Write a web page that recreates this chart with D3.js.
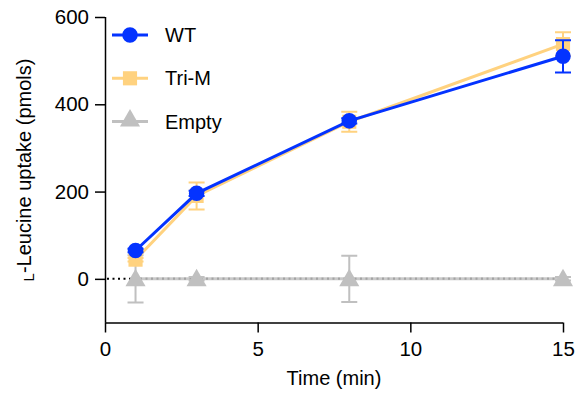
<!DOCTYPE html>
<html>
<head>
<meta charset="utf-8">
<script src="https://cdn.jsdelivr.net/npm/d3@7"></script>
<style>
  body { margin: 0; background: #fff; }
  text { font-family: "Liberation Sans", Arial, sans-serif; fill: #000; }
</style>
</head>
<body>
<svg id="chart" width="578" height="396"></svg>
<script>
// values
var times = [1, 3, 8, 15];
var wtMean = [65, 196, 362, 510];
var wtErr = [4, 6, 6, 37];
var trimMean = [44, 190, 360, 538];
var trimErr = [4, 31, 23, 27];
var emptyMean = [0, 0, 0, 0];
var emptyErr = [54, 4, 53, 4];
var xTicks = [0, 5, 10, 15];
var yTicks = [0, 200, 400, 600];

var series = [
    {name: "Empty", mean: emptyMean, err: emptyErr, color: "#c0c0c0", shape: "triangle"},
    {name: "Tri-M", mean: trimMean, err: trimErr, color: "#ffd27f", shape: "square"},
    {name: "WT", mean: wtMean, err: wtErr, color: "#0433ff", shape: "circle"}
];
var legendOrder = ["WT", "Tri-M", "Empty"];

var svg = d3.select("#chart");

var x = d3.scaleLinear().domain([0, 15]).range([105, 563]);
var y = d3.scaleLinear().domain([-100, 600]).range([322.5, 17]);

function symbolFor(shape) {
    if (shape == "circle") return d3.symbol().type(d3.symbolCircle).size(190);
    if (shape == "square") return d3.symbol().type(d3.symbolSquare).size(200);
    return d3.symbol().type(d3.symbolTriangle).size(175);
}

// axes
var xAxis = svg.append("g")
    .attr("transform", "translate(0," + y(-100) + ")")
    .call(d3.axisBottom(x).tickValues(xTicks).tickSize(10).tickPadding(9));
var yAxis = svg.append("g")
    .attr("transform", "translate(" + x(0) + ",0)")
    .call(d3.axisLeft(y).tickValues(yTicks).tickSize(10).tickPadding(6));

[xAxis, yAxis].forEach(function (a) {
    a.select(".domain").attr("stroke", "#000").attr("stroke-width", 1.5);
    a.selectAll(".tick line").attr("stroke", "#000").attr("stroke-width", 1.5);
    a.selectAll(".tick text").style("font-size", "20.5px")
        .style("font-family", "Liberation Sans, Arial, sans-serif").attr("fill", "#000");
});
// domain paths from d3 draw outer ticks; remove them
xAxis.select(".domain").attr("d", "M" + x(0) + ",0.5H" + x(15));
yAxis.select(".domain").attr("d", "M0.5," + y(-100) + "V" + y(600));

// dotted zero line
svg.append("line")
    .attr("x1", x(0) + 2).attr("x2", x(15))
    .attr("y1", y(0)).attr("y2", y(0))
    .attr("stroke", "#000").attr("stroke-width", 2)
    .attr("stroke-dasharray", "2,3.5");

var line = d3.line()
    .x(function (d, i) { return x(times[i]); })
    .y(function (d) { return y(d); });

series.forEach(function (s) {
    var g = svg.append("g");
    var errs = times.map(function (t, i) { return {t: t, m: s.mean[i], e: s.err[i]}; });

    g.selectAll(".bar").data(errs).enter().append("path")
        .attr("d", function (d) {
            var cx = x(d.t), hi = y(d.m + d.e), lo = y(d.m - d.e);
            return "M" + cx + "," + hi + "V" + lo +
                "M" + (cx - 8) + "," + hi + "H" + (cx + 8) +
                "M" + (cx - 8) + "," + lo + "H" + (cx + 8);
        })
        .attr("fill", "none").attr("stroke", s.color).attr("stroke-width", 2);

    g.append("path").datum(s.mean)
        .attr("d", line)
        .attr("fill", "none").attr("stroke", s.color)
        .attr("stroke-width", 3)
        .attr("opacity", s.shape == "triangle" ? 0.85 : 1);

    g.selectAll(".pt").data(errs).enter().append("path")
        .attr("d", symbolFor(s.shape))
        .attr("transform", function (d) {
            return "translate(" + x(d.t) + "," + (y(d.m) + (s.shape == "triangle" ? 1.5 : 0)) + ")";
        })
        .attr("fill", s.color);
});

// legend
legendOrder.forEach(function (name, i) {
    var s = series.filter(function (d) { return d.name == name; })[0];
    var ly = 35 + i * 43.3;
    var g = svg.append("g").attr("transform", "translate(0," + ly + ")");
    g.append("line").attr("x1", 112).attr("x2", 148).attr("y1", 0).attr("y2", 0)
        .attr("stroke", s.color).attr("stroke-width", 3);
    g.append("path").attr("d", symbolFor(s.shape))
        .attr("transform", "translate(130," + (s.shape == "triangle" ? -1 : 0) + ")")
        .attr("fill", s.color);
    g.append("text").attr("x", 165).attr("y", 7)
        .style("font-size", "20px").text(name);
});

// axis titles
svg.append("text")
    .attr("x", (x(0) + x(15)) / 2).attr("y", 385)
    .attr("text-anchor", "middle")
    .style("font-size", "20px")
    .text("Time (min)");

var yl = svg.append("text")
    .attr("transform", "translate(31,170) rotate(-90)")
    .attr("text-anchor", "middle")
    .style("font-size", "20px");
yl.append("tspan").style("font-size", "15px").attr("dy", 3).text("L");
yl.append("tspan").attr("dy", -3).text("-Leucine uptake (pmols)");
</script>
</body>
</html>
